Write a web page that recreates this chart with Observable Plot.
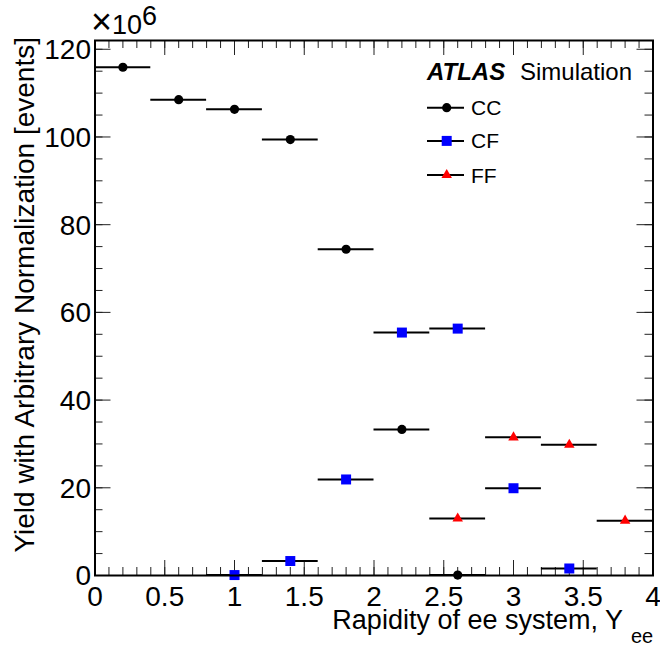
<!DOCTYPE html>
<html>
<head>
<meta charset="utf-8">
<script src="https://cdn.jsdelivr.net/npm/d3@7"></script>
<script src="https://cdn.jsdelivr.net/npm/@observablehq/plot@0.6"></script>
<style>
  html, body { margin: 0; padding: 0; background: #fff; }
  #chart svg { display: block; }
</style>
</head>
<body>
<div id="chart"></div>
<script>
// ---- data ----
const seriesNames = ["CC", "CF", "FF"];
const seriesColors = ["#000000", "#0000ff", "#ff0000"];
const seriesSymbols = ["circle", "square", "triangle"];
const binHalfWidth = 0.2;

const ccX = [0.2, 0.6, 1.0, 1.4, 1.8, 2.2, 2.6];
const ccY = [115.9, 108.5, 106.3, 99.4, 74.4, 33.3, 0.1];
const cfX = [1.0, 1.4, 1.8, 2.2, 2.6, 3.0, 3.4];
const cfY = [0.1, 3.3, 21.9, 55.4, 56.3, 19.9, 1.6];
const ffX = [2.6, 3.0, 3.4, 3.8];
const ffY = [13.0, 31.5, 29.8, 12.5];

const xMajorTicks = [0, 0.5, 1, 1.5, 2, 2.5, 3, 3.5, 4];
const xTickLabels = ["0", "0.5", "1", "1.5", "2", "2.5", "3", "3.5", "4"];
const yMajorTicks = [0, 20, 40, 60, 80, 100, 120];
const yTickLabels = ["0", "20", "40", "60", "80", "100", "120"];
const xMinorStep = 0.1;
const yMinorStep = 5;

const xTitle = "Rapidity of ee system, Y";
const xTitleSub = "ee";
const yTitle = "Yield with Arbitrary Normalization [events]";

// ---- build tables ----
const seriesX = [ccX, cfX, ffX];
const seriesY = [ccY, cfY, ffY];
const rows = [];
seriesNames.forEach((s, i) => {
  seriesX[i].forEach((x, j) => rows.push({series: s, x, y: seriesY[i][j], x1: x - binHalfWidth, x2: x + binHalfWidth}));
});
const xMinor = d3.range(0, 4 + 1e-9, xMinorStep).map(v => +v.toFixed(2));
const yMinor = d3.range(0, 120 + 1e-9, yMinorStep);

const W = 660, H = 648;
const mL = 94.5, mR = 7.5, mT = 40, mB = 73;
const pw = W - mL - mR, ph = H - mT - mB;
const font = "'Liberation Sans', Arial, Helvetica, sans-serif";
const markerR = {CC: 4.6, CF: 5.64, FF: 3.9};

const dotMarks = seriesNames.map((s, i) =>
  Plot.dot(rows.filter(d => d.series === s), {
    x: "x", y: "y", symbol: () => seriesSymbols[i], fill: seriesColors[i], stroke: "none", r: markerR[s]
  })
);

const chart = Plot.plot({
  width: W, height: H,
  marginLeft: mL, marginRight: mR, marginTop: mT, marginBottom: mB,
  style: {fontFamily: font, background: "#fff", color: "#000"},
  x: {domain: [0, 4], axis: null},
  y: {domain: [0, 122], axis: null},
  symbol: {domain: seriesSymbols, range: seriesSymbols},
  marks: [
    // minor ticks (inside, all four sides)
    Plot.tickX(xMinor, {x: d => d, insetTop: ph - 8, stroke: "#222", strokeWidth: 1}),
    Plot.tickX(xMinor, {x: d => d, insetBottom: ph - 8, stroke: "#222", strokeWidth: 1}),
    Plot.tickY(yMinor, {y: d => d, insetRight: pw - 8, stroke: "#222", strokeWidth: 1}),
    Plot.tickY(yMinor, {y: d => d, insetLeft: pw - 8, stroke: "#222", strokeWidth: 1}),
    // major ticks
    Plot.tickX(xMajorTicks, {x: d => d, insetTop: ph - 15, stroke: "#222", strokeWidth: 1}),
    Plot.tickX(xMajorTicks, {x: d => d, insetBottom: ph - 15, stroke: "#222", strokeWidth: 1}),
    Plot.tickY(yMajorTicks, {y: d => d, insetRight: pw - 16, stroke: "#222", strokeWidth: 1}),
    Plot.tickY(yMajorTicks, {y: d => d, insetLeft: pw - 16, stroke: "#222", strokeWidth: 1}),
    // tick labels
    Plot.text(xMajorTicks, {x: d => d, text: (d, i) => xTickLabels[i], frameAnchor: "bottom", lineAnchor: "top", dy: 11, fontSize: 28, fill: "#000"}),
    Plot.text(yMajorTicks, {y: d => d, text: (d, i) => yTickLabels[i], frameAnchor: "left", textAnchor: "end", lineAnchor: "middle", dx: -4, dy: 1, fontSize: 28, fill: "#000"}),
    // horizontal bin-width bars
    Plot.ruleY(rows, {y: "y", x1: "x1", x2: "x2", stroke: "#000", strokeWidth: 2}),
    ...dotMarks,
    Plot.frame({stroke: "#000", strokeWidth: 2})
  ]
});

document.getElementById("chart").appendChild(chart);

// ---- extra texts (titles, exponent, legend) ----
const svg = d3.select(chart);
const g = svg.append("g").attr("font-family", font).attr("fill", "#000").attr("text-anchor", "start");

// exponent
const ex = g.append("text").attr("x", 91).attr("y", 34).attr("font-size", 27).attr("text-anchor", "start");
ex.append("tspan").attr("font-size", 36).text("\u00d7");
ex.append("tspan").text("10");
ex.append("tspan").attr("dy", -9).attr("font-size", 27).text("6");

// y title
g.append("text")
  .attr("transform", "translate(34,37) rotate(-90)")
  .attr("text-anchor", "end")
  .attr("font-size", 28)
  .text(yTitle);

// x title
g.append("text").attr("x", 623).attr("y", 629).attr("text-anchor", "end").attr("font-size", 27).text(xTitle);
g.append("text").attr("x", 631).attr("y", 643).attr("text-anchor", "start").attr("font-size", 20).text(xTitleSub);

// ATLAS label
g.append("text").attr("x", 427).attr("y", 80).attr("text-anchor", "start").attr("font-size", 24).attr("font-weight", "bold").attr("font-style", "italic").text("ATLAS");
g.append("text").attr("x", 520).attr("y", 80).attr("text-anchor", "start").attr("font-size", 24).text("Simulation");

// legend
const legY = [107.7, 140.9, 175];
const symMap = {circle: d3.symbolCircle, square: d3.symbolSquare, triangle: d3.symbolTriangle};
seriesNames.forEach((s, i) => {
  const lg = g.append("g");
  lg.append("line").attr("x1", 427).attr("x2", 464).attr("y1", legY[i]).attr("y2", legY[i]).attr("stroke", "#000").attr("stroke-width", 2);
  const r = markerR[s];
  lg.append("path")
    .attr("transform", `translate(446.7,${legY[i]})`)
    .attr("d", d3.symbol(symMap[seriesSymbols[i]], r * r * Math.PI)())
    .attr("fill", seriesColors[i]);
  lg.append("text").attr("x", 471).attr("y", legY[i] + 7.5).attr("text-anchor", "start").attr("font-size", 21).text(s);
});
</script>
</body>
</html>
